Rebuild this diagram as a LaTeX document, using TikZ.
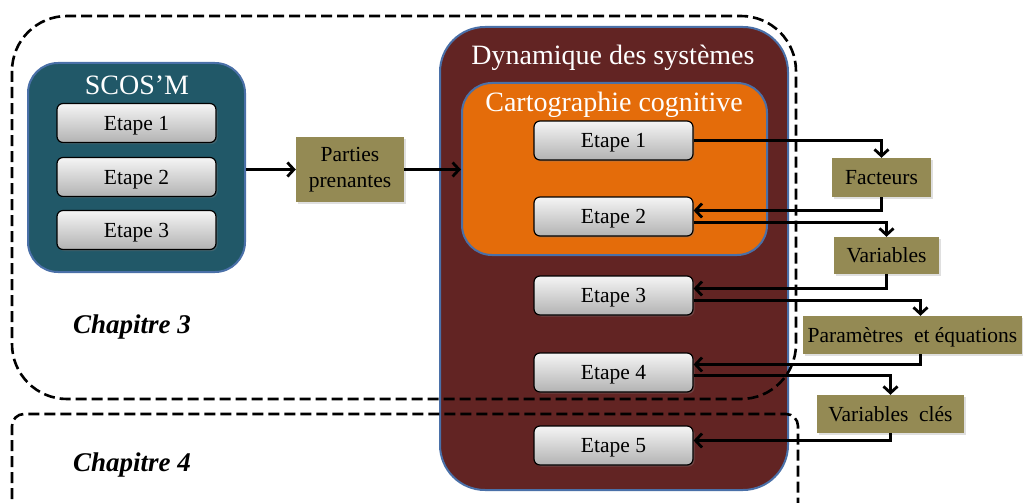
\documentclass[tikz,border=0pt]{standalone}
\usepackage{fontspec}
\setmainfont{Liberation Serif}
\usetikzlibrary{arrows.meta,calc,shadows}
\definecolor{scosfill}{HTML}{215868}
\definecolor{dynfill}{HTML}{622423}
\definecolor{cartofill}{HTML}{E46C0A}
\definecolor{olivefill}{HTML}{948A54}
\definecolor{bordblue}{HTML}{4A70A8}
\begin{document}
\begin{tikzpicture}[x=1pt,y=-1pt,
  container/.style={draw=bordblue, line width=2pt, inner sep=0pt},
  titletext/.style={text=white, font=\fontsize{28}{30}\selectfont, inner sep=0pt, anchor=base},
  etape/.style={draw=black, line width=1.2pt, rounded corners=6pt, top color=white!96!black, bottom color=black!30,
    minimum width=159pt, minimum height=39pt, inner sep=0pt, font=\fontsize{21.5}{24}\selectfont,
    text height=14pt, text depth=0pt,
    drop shadow={opacity=0.35, shadow xshift=1.5pt, shadow yshift=-1.5pt}},
  olivebox/.style={fill=olivefill, inner sep=0pt, font=\fontsize{21.5}{24}\selectfont,
    drop shadow={opacity=0.25, shadow xshift=1.5pt, shadow yshift=-1.5pt}},
  oneline/.style={text height=14pt, text depth=0pt},
  conn/.style={line width=2.8pt, -{Straight Barb[length=6.5pt,width=14pt]}},
  chapline/.style={line width=2.6pt, dash pattern=on 11pt off 5pt},
  chaptext/.style={font=\bfseries\itshape\fontsize{27}{30}\selectfont, inner sep=0pt}]
\useasboundingbox (0,0) rectangle (1023,503);

% containers
\node[container, fill=scosfill, rounded corners=30pt, minimum width=217pt, minimum height=209pt] (scos) at (136.5,167.5) {};
\node[titletext] (scostitle) at (137,94) {SCOS’M};
\node[container, fill=dynfill, rounded corners=45pt, minimum width=348pt, minimum height=463pt] (dyn) at (614,258.5) {};
\node[titletext] (dyntitle) at (613,65) {Dynamique des systèmes};
\node[container, fill=cartofill, rounded corners=30pt, minimum width=305pt, minimum height=172pt] (carto) at (614.5,169) {};
\node[titletext] (cartotitle) at (614,111) {Cartographie cognitive};

% chapter frames
\draw[chapline, rounded corners=55pt] (12,16) rectangle (796,399);
\draw[chapline, rounded corners=12pt] (12,515) -- (12,414) -- (798,414) -- (798,515);
\node[chaptext] (ch3) at (132,327) {Chapitre 3};
\node[chaptext] (ch4) at (132,465) {Chapitre 4};

% SCOS'M steps
\node[etape] (s1) at (136.5,123) {Etape 1};
\node[etape] (s2) at (136.5,177) {Etape 2};
\node[etape] (s3) at (136.5,230) {Etape 3};

% stakeholders
\node[olivebox, minimum width=108pt, minimum height=65pt, align=center,
  font=\fontsize{21.5}{26}\selectfont] (pp) at (350,169.5) {Parties\\prenantes};

% dynamic steps
\node[etape] (d1) at (613.5,140.5) {Etape 1};
\node[etape] (d2) at (613.5,216.5) {Etape 2};
\node[etape] (d3) at (613.5,295.5) {Etape 3};
\node[etape] (d4) at (613.5,372.5) {Etape 4};
\node[etape] (d5) at (613.5,445.5) {Etape 5};

% outputs
\node[olivebox, oneline, minimum width=99pt, minimum height=39pt] (fac) at (881.5,177.5) {Facteurs};
\node[olivebox, oneline, minimum width=105pt, minimum height=37pt] (var) at (886.5,255.5) {Variables};
\node[olivebox, oneline, minimum width=219pt, minimum height=38pt] (par) at (912.5,335) {Paramètres~ et équations};
\node[olivebox, oneline, minimum width=147pt, minimum height=38pt] (vc) at (890.5,414) {Variables~ clés};

% connectors
\draw[conn] (scos.east |- pp.west) -- (pp.west);
\draw[conn] (pp.east) -- (pp.east -| carto.west);
\draw[conn] (d1.east) -| (fac.north);
\draw[conn] (fac.south) |- ([yshift=6pt]d2.east);
\draw[conn] ([yshift=-6pt]d2.east) -| (var.north);
\draw[conn] (var.south) |- ([yshift=7pt]d3.east);
\draw[conn] ([yshift=-5pt]d3.east) -| ([xshift=8pt]par.north);
\draw[conn] ([xshift=8pt]par.south) |- ([yshift=8pt]d4.east);
\draw[conn] ([yshift=-3pt]d4.east) -| (vc.north);
\draw[conn] (vc.south) |- ([yshift=5pt]d5.east);
\end{tikzpicture}
\end{document}
